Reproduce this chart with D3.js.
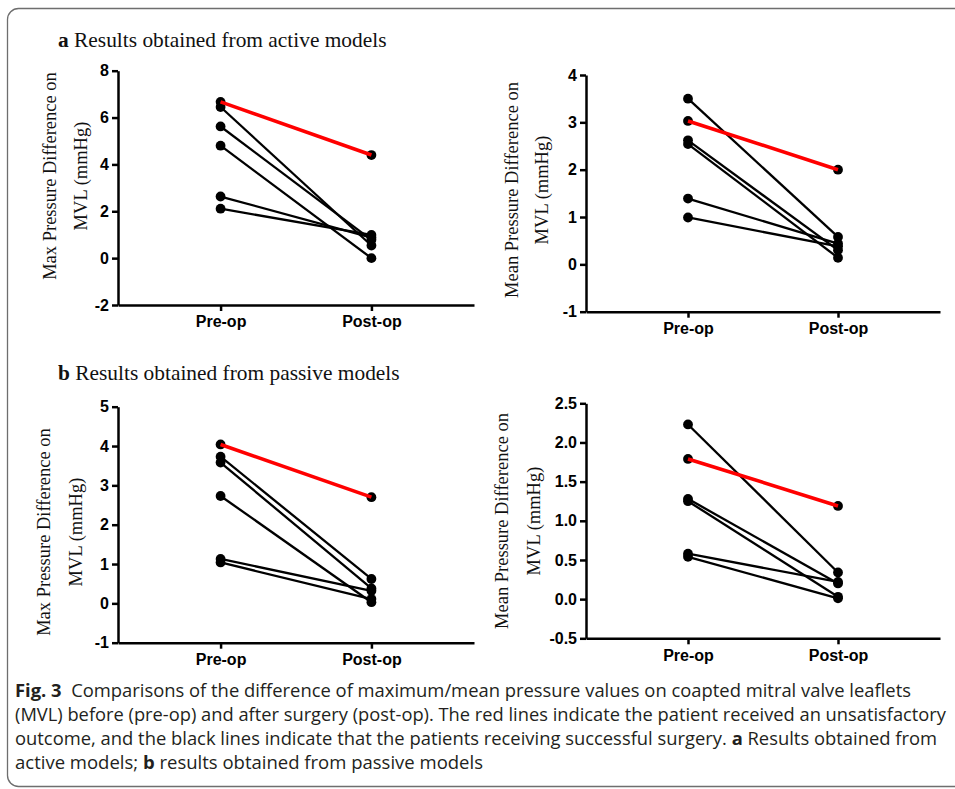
<!DOCTYPE html>
<html>
<head>
<meta charset="utf-8">
<script src="https://cdn.jsdelivr.net/npm/d3@7"></script>
<style>
  body { margin: 0; background: #fff; }
  svg { display: block; }
</style>
</head>
<body>
<svg id="fig" width="955" height="789"></svg>
<script>
// categories on the x axis
const groups = ["Pre-op", "Post-op"];

// index 0 in every series is the patient with the unsatisfactory outcome (red line)
const activeMaxPre = [6.67, 6.45, 5.62, 4.80, 2.63, 2.11];
const activeMaxPost = [4.40, 0.54, 0.78, 0.00, 0.88, 0.99];

const activeMeanPre = [3.03, 3.50, 2.62, 2.54, 1.39, 0.99];
const activeMeanPost = [2.00, 0.58, 0.30, 0.14, 0.44, 0.38];

const passiveMaxPre = [4.04, 3.73, 3.58, 2.73, 1.13, 1.04];
const passiveMaxPost = [2.70, 0.62, 0.38, 0.03, 0.32, 0.11];

const passiveMeanPre = [1.79, 2.23, 1.28, 1.25, 0.58, 0.54];
const passiveMeanPost = [1.19, 0.34, 0.20, 0.03, 0.22, 0.01];

// y tick labels
const activeMaxTicks = [-2, 0, 2, 4, 6, 8];
const activeMeanTicks = [-1, 0, 1, 2, 3, 4];
const passiveMaxTicks = [-1, 0, 1, 2, 3, 4, 5];
const passiveMeanTicks = [-0.5, 0, 0.5, 1.0, 1.5, 2.0, 2.5];

const redIndex = 0;

const svg = d3.select("#fig");

// card border (open on the right, like the journal layout)
svg.append("rect")
  .attr("x", 7.5).attr("y", 8.5)
  .attr("width", 990).attr("height", 778)
  .attr("rx", 11)
  .attr("fill", "none")
  .attr("stroke", "#6e6e6e")
  .attr("stroke-width", 1.3);

// panel headings
function heading(letter, text, y) {
  const t = svg.append("text")
    .attr("x", 58).attr("y", y)
    .style("font-family", "'Liberation Serif', 'Times New Roman', serif")
    .style("font-size", "21.4px")
    .attr("fill", "#111");
  t.append("tspan").style("font-weight", "bold").text(letter);
  t.append("tspan").text(" " + text);
}
heading("a", "Results obtained from active models", 47);
heading("b", "Results obtained from passive models", 380);

// hyphen minus, like the original figure
const intFmt = d => d3.format("d")(d).replace("\u2212", "-");
const decFmt = d => d3.format(".1f")(d).replace("\u2212", "-");

const panels = [
  { pre: activeMaxPre, post: activeMaxPost, ticks: activeMaxTicks, fmt: intFmt,
    x0: 118, x1: 474, yTop: 70.7, yBot: 305,
    label: ["Max Pressure Difference on", "MVL (mmHg)"], lx: [56, 87], ly: 176 },
  { pre: activeMeanPre, post: activeMeanPost, ticks: activeMeanTicks, fmt: intFmt,
    x0: 586, x1: 940, yTop: 75, yBot: 311.7,
    label: ["Mean Pressure Difference on", "MVL (mmHg)"], lx: [518, 548], ly: 190 },
  { pre: passiveMaxPre, post: passiveMaxPost, ticks: passiveMaxTicks, fmt: intFmt,
    x0: 118, x1: 474, yTop: 406.7, yBot: 642.7,
    label: ["Max Pressure Difference on", "MVL (mmHg)"], lx: [50, 82], ly: 532 },
  { pre: passiveMeanPre, post: passiveMeanPost, ticks: passiveMeanTicks, fmt: decFmt,
    x0: 586, x1: 940, yTop: 403.3, yBot: 638.3,
    label: ["Mean Pressure Difference on", "MVL (mmHg)"], lx: [508, 540], ly: 521 }
];

panels.forEach(p => {
  const g = svg.append("g");

  const x = d3.scalePoint().domain(groups).range([p.x0, p.x1]).padding(0.68);
  const y = d3.scaleLinear()
    .domain([p.ticks[0], p.ticks[p.ticks.length - 1]])
    .range([p.yBot, p.yTop]);

  // y axis
  const ya = g.append("g")
    .attr("transform", `translate(${p.x0},0)`)
    .call(d3.axisLeft(y).tickValues(p.ticks).tickFormat(p.fmt).tickSize(6).tickSizeOuter(0).tickPadding(3));
  // x axis
  const xa = g.append("g")
    .attr("transform", `translate(0,${p.yBot})`)
    .call(d3.axisBottom(x).tickSize(6).tickSizeOuter(0).tickPadding(5));

  [ya, xa].forEach(a => {
    a.select(".domain").attr("stroke", "#000").attr("stroke-width", 2.5);
    a.selectAll(".tick line").attr("stroke", "#000").attr("stroke-width", 2.5);
    a.selectAll(".tick text")
      .attr("fill", "#000")
      .style("font-family", "'Liberation Sans', Arial, sans-serif")
      .style("font-weight", "bold")
      .style("font-size", "16px");
  });

  // y axis title, two lines
  p.label.forEach((s, i) => {
    g.append("text")
      .attr("transform", `translate(${p.lx[i]},${p.ly}) rotate(-90)`)
      .attr("text-anchor", "middle")
      .style("font-family", "'Liberation Serif', 'Times New Roman', serif")
      .style("font-size", "18.5px")
      .attr("fill", "#111")
      .text(s);
  });

  const pairs = p.pre.map((v, i) => ({ i, pre: v, post: p.post[i] }));

  // black lines (successful surgery)
  g.selectAll(".pair")
    .data(pairs.filter(d => d.i !== redIndex))
    .join("line")
    .attr("x1", x(groups[0])).attr("y1", d => y(d.pre))
    .attr("x2", x(groups[1])).attr("y2", d => y(d.post))
    .attr("stroke", "#000")
    .attr("stroke-width", 2.3);

  // dots
  const dots = pairs.flatMap(d => [
    { g: groups[0], v: d.pre },
    { g: groups[1], v: d.post }
  ]);
  g.selectAll(".dot")
    .data(dots)
    .join("circle")
    .attr("cx", d => x(d.g))
    .attr("cy", d => y(d.v))
    .attr("r", 4.9)
    .attr("fill", "#000");

  // red line (unsatisfactory outcome) on top
  const r = pairs[redIndex];
  g.append("line")
    .attr("x1", x(groups[0])).attr("y1", y(r.pre))
    .attr("x2", x(groups[1])).attr("y2", y(r.post))
    .attr("stroke", "#ff0000")
    .attr("stroke-width", 3.6);
});

// caption
const capLines = [
  [["Fig. 3", true], ["  Comparisons of the difference of maximum/mean pressure values on coapted mitral valve leaflets", false]],
  [["(MVL) before (pre-op) and after surgery (post-op). The red lines indicate the patient received an unsatisfactory", false]],
  [["outcome, and the black lines indicate that the patients receiving successful surgery. ", false], ["a", true], [" Results obtained from", false]],
  [["active models; ", false], ["b", true], [" results obtained from passive models", false]]
];
const capWidths = [896, 931, 922, 468];
const capY = [697, 721, 745, 769];

capLines.forEach((parts, i) => {
  const t = svg.append("text")
    .attr("x", 15).attr("y", capY[i])
    .attr("textLength", capWidths[i])
    .attr("lengthAdjust", "spacingAndGlyphs")
    .style("font-family", "'Open Sans', 'Noto Sans', sans-serif")
    .style("font-size", "17.5px")
    .attr("fill", "#231f20")
    .attr("xml:space", "preserve");
  parts.forEach(([s, b]) => {
    t.append("tspan").style("font-weight", b ? "bold" : "normal").text(s);
  });
});
</script>
</body>
</html>
